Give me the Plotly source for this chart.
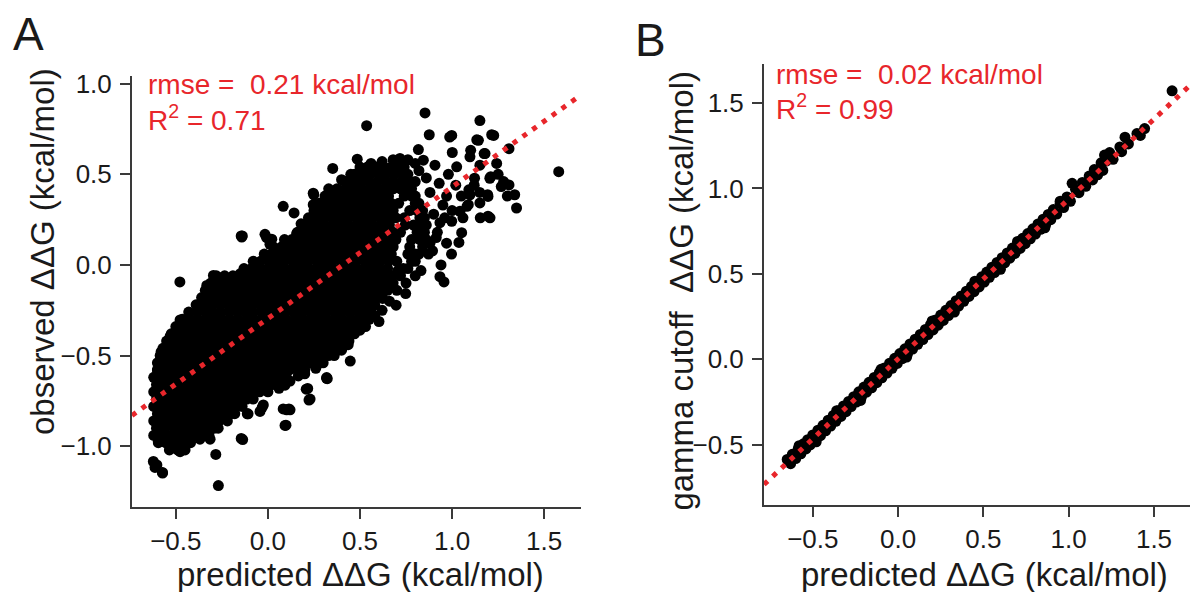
import plotly.graph_objects as go

# ---------------- Panel A: observed vs predicted ddG ----------------
# Dense core of the cloud, read row by row: (observed y, [predicted x ...])
A_core_rows = [
    (-1.02, [-0.535, -0.49, -0.45]),
    (-0.98, [-0.595, -0.555, -0.51, -0.465, -0.42]),
    (-0.94, [-0.62, -0.575, -0.53, -0.49, -0.445, -0.40, -0.36, -0.32]),
    (-0.90, [-0.605, -0.56, -0.51, -0.47, -0.425, -0.38, -0.335, -0.29, -0.27]),
    (-0.86, [-0.62, -0.58, -0.535, -0.49, -0.445, -0.40, -0.355, -0.31, -0.265, -0.22]),
    (-0.82, [-0.60, -0.555, -0.51, -0.47, -0.425, -0.38, -0.33, -0.29, -0.245, -0.20, -0.18]),
    (-0.78, [-0.62, -0.58, -0.535, -0.49, -0.445, -0.40, -0.36, -0.315, -0.27, -0.225, -0.18, -0.14]),
    (-0.74, [-0.605, -0.56, -0.515, -0.47, -0.425, -0.38, -0.34, -0.29, -0.25, -0.205, -0.16, -0.115, -0.08]),
    (-0.70, [-0.62, -0.58, -0.535, -0.49, -0.445, -0.40, -0.355, -0.31, -0.265, -0.22, -0.18, -0.135, -0.09, -0.045, 0.0]),
    (-0.66, [-0.605, -0.56, -0.515, -0.47, -0.425, -0.38, -0.335, -0.29, -0.245, -0.20, -0.155, -0.11, -0.065, -0.02, 0.025, 0.05]),
    (-0.62, [-0.62, -0.58, -0.535, -0.49, -0.445, -0.40, -0.355, -0.31, -0.265, -0.22, -0.175, -0.13, -0.09, -0.045, 0.0, 0.045, 0.085, 0.10]),
    (-0.58, [-0.60, -0.555, -0.51, -0.465, -0.42, -0.375, -0.33, -0.285, -0.245, -0.20, -0.155, -0.11, -0.065, -0.02, 0.025, 0.07, 0.115, 0.16, 0.20]),
    (-0.54, [-0.60, -0.575, -0.53, -0.485, -0.44, -0.395, -0.35, -0.305, -0.26, -0.22, -0.175, -0.13, -0.085, -0.04, 0.005, 0.05, 0.09, 0.135, 0.18, 0.225, 0.265]),
    (-0.50, [-0.585, -0.545, -0.50, -0.455, -0.41, -0.365, -0.32, -0.28, -0.235, -0.19, -0.145, -0.10, -0.06, -0.015, 0.03, 0.075, 0.115, 0.16, 0.205, 0.25, 0.29, 0.33]),
    (-0.46, [-0.57, -0.525, -0.48, -0.435, -0.39, -0.345, -0.30, -0.255, -0.215, -0.17, -0.125, -0.08, -0.035, 0.01, 0.05, 0.095, 0.14, 0.185, 0.23, 0.27, 0.315, 0.36, 0.40]),
    (-0.42, [-0.55, -0.505, -0.46, -0.415, -0.37, -0.325, -0.28, -0.235, -0.19, -0.15, -0.105, -0.06, -0.015, 0.03, 0.07, 0.115, 0.16, 0.205, 0.25, 0.29, 0.335, 0.38, 0.42, 0.44]),
    (-0.38, [-0.525, -0.48, -0.435, -0.39, -0.345, -0.30, -0.26, -0.215, -0.17, -0.125, -0.08, -0.04, 0.005, 0.05, 0.095, 0.14, 0.18, 0.225, 0.27, 0.315, 0.355, 0.40, 0.445, 0.47]),
    (-0.34, [-0.50, -0.455, -0.41, -0.365, -0.32, -0.28, -0.235, -0.19, -0.145, -0.10, -0.06, -0.015, 0.03, 0.075, 0.115, 0.16, 0.205, 0.25, 0.29, 0.335, 0.38, 0.425, 0.465, 0.50]),
    (-0.30, [-0.465, -0.425, -0.38, -0.335, -0.29, -0.25, -0.205, -0.16, -0.115, -0.075, -0.03, 0.015, 0.055, 0.10, 0.145, 0.19, 0.23, 0.275, 0.32, 0.36, 0.405, 0.45, 0.49, 0.53]),
    (-0.26, [-0.43, -0.385, -0.34, -0.30, -0.255, -0.21, -0.165, -0.12, -0.08, -0.035, 0.01, 0.055, 0.095, 0.14, 0.185, 0.23, 0.27, 0.315, 0.36, 0.40, 0.445, 0.49, 0.53, 0.56]),
    (-0.22, [-0.39, -0.35, -0.305, -0.26, -0.215, -0.175, -0.13, -0.085, -0.04, 0.0, 0.045, 0.09, 0.13, 0.175, 0.22, 0.26, 0.305, 0.35, 0.39, 0.435, 0.48, 0.52, 0.565, 0.58]),
    (-0.18, [-0.36, -0.32, -0.275, -0.23, -0.19, -0.145, -0.10, -0.06, -0.015, 0.03, 0.07, 0.115, 0.16, 0.20, 0.245, 0.29, 0.33, 0.375, 0.42, 0.46, 0.505, 0.55, 0.59, 0.62]),
    (-0.14, [-0.34, -0.295, -0.25, -0.21, -0.165, -0.12, -0.08, -0.035, 0.01, 0.05, 0.095, 0.14, 0.18, 0.225, 0.27, 0.31, 0.355, 0.40, 0.44, 0.485, 0.53, 0.57, 0.615, 0.65]),
    (-0.10, [-0.31, -0.27, -0.225, -0.18, -0.14, -0.095, -0.05, -0.01, 0.035, 0.08, 0.12, 0.165, 0.21, 0.25, 0.295, 0.34, 0.38, 0.425, 0.47, 0.51, 0.555, 0.60, 0.64, 0.68]),
    (-0.06, [-0.28, -0.235, -0.19, -0.15, -0.105, -0.06, -0.02, 0.025, 0.07, 0.11, 0.155, 0.20, 0.24, 0.285, 0.33, 0.37, 0.415, 0.46, 0.50, 0.545, 0.59, 0.63, 0.675, 0.72]),
    (-0.02, [-0.13, -0.09, -0.045, 0.0, 0.04, 0.085, 0.13, 0.17, 0.215, 0.26, 0.30, 0.345, 0.39, 0.43, 0.475, 0.52, 0.56, 0.605, 0.65, 0.735, 0.76]),
    (0.02, [-0.08, -0.04, 0.005, 0.05, 0.09, 0.135, 0.18, 0.22, 0.265, 0.31, 0.35, 0.395, 0.44, 0.48, 0.525, 0.57, 0.61, 0.655, 0.70, 0.78, 0.80]),
    (0.06, [-0.02, 0.02, 0.065, 0.11, 0.15, 0.195, 0.24, 0.28, 0.325, 0.37, 0.41, 0.455, 0.50, 0.54, 0.585, 0.63, 0.67, 0.76, 0.80, 0.82]),
    (0.10, [0.03, 0.075, 0.12, 0.16, 0.205, 0.25, 0.29, 0.335, 0.38, 0.42, 0.465, 0.51, 0.55, 0.595, 0.64, 0.68, 0.77, 0.84]),
    (0.14, [0.09, 0.13, 0.175, 0.22, 0.26, 0.305, 0.35, 0.39, 0.435, 0.48, 0.52, 0.565, 0.61, 0.65, 0.695, 0.78, 0.825, 0.86]),
    (0.18, [0.16, 0.20, 0.245, 0.29, 0.33, 0.375, 0.42, 0.46, 0.505, 0.55, 0.59, 0.635, 0.68, 0.72, 0.81, 0.85]),
    (0.22, [0.19, 0.225, 0.27, 0.31, 0.355, 0.40, 0.44, 0.485, 0.53, 0.57, 0.615, 0.66, 0.745, 0.79, 0.83, 0.86]),
    (0.26, [0.22, 0.26, 0.305, 0.35, 0.39, 0.435, 0.48, 0.52, 0.565, 0.61, 0.65, 0.695, 0.74, 0.825, 0.85]),
    (0.30, [0.25, 0.29, 0.335, 0.38, 0.42, 0.465, 0.51, 0.55, 0.595, 0.64, 0.68, 0.77, 0.81, 0.84]),
    (0.34, [0.28, 0.32, 0.365, 0.41, 0.45, 0.495, 0.54, 0.58, 0.625, 0.67, 0.71, 0.80, 0.82]),
    (0.38, [0.31, 0.35, 0.395, 0.44, 0.48, 0.525, 0.57, 0.61, 0.655, 0.74, 0.78, 0.80]),
    (0.42, [0.33, 0.375, 0.42, 0.46, 0.505, 0.55, 0.59, 0.635, 0.68, 0.72, 0.76, 0.78]),
    (0.46, [0.42, 0.465, 0.51, 0.55, 0.595, 0.64, 0.68, 0.725, 0.77, 0.80]),
    (0.50, [0.47, 0.51, 0.555, 0.60, 0.64, 0.685, 0.73, 0.76]),
    (0.54, [0.50, 0.54, 0.585, 0.63, 0.67, 0.715, 0.74]),
]

# Scattered points around the core (predicted, observed)
A_edge_pred = [
    0.853, 0.536, 1.151, 0.876, 0.998, 1.215, 1.134, 0.817, 1.001, 1.179, 1.097, 1.242, 0.485, 0.352,
    0.717, 0.844, 0.907, 1.025, 1.151, 1.210, 1.193, 1.097, 1.151, 1.206, 1.088, 1.043, 0.998, 1.052,
    0.934, 0.246, 0.246, 0.192, 0.310, 1.579, 1.309, 1.226, 0.083, -0.145, -0.478, 0.249, 0.987, 1.143,
    1.350, 1.340, 1.309, 1.267, 1.195, 1.081, 1.153, 1.195, 1.037, 0.997, 0.872, 0.956, 0.934, 0.831,
    1.101, 1.174, 1.205, 1.091, 1.122, 1.059, 0.914, 0.894, 0.706, 0.665, 0.748,
    0.142, 0.180, 0.319, -0.139, -0.016, 0.021, 0.156, 0.373,
    -0.296, -0.242, -0.332, -0.278, -0.477, -0.531, -0.142, -0.007, 0.011, -0.151, 0.319,
    -0.622, -0.613, -0.573, -0.269, -0.283, -0.137, 0.098, 0.102, 0.120, 0.223, 0.216, 0.319, 0.093,
    -0.112, -0.025, -0.043, -0.369, -0.477, -0.531, -0.595, -0.314, -0.215, -0.197, 0.165,
    0.447, 0.447, 0.322, 0.436, 0.384, 0.530, 0.603, 0.623, 0.696, 0.561, 0.208, 0.229, 0.093, 0.083,
    0.114, -0.145, -0.108, -0.031, -0.572, -0.603,
    0.88, 0.92, 0.90, 0.95, 0.88, 0.93, 0.98, 0.86, 1.02, 1.05, 0.97, 1.00, 0.96, 1.12, 1.15, 1.25,
    1.28, 1.30, 0.82, 0.80, 0.76, 0.68, 0.62, 0.56, 0.45, 0.40, 0.94, 0.97, 0.80, 0.75, 0.70, 0.62,
    0.66, 0.58, 0.55, 0.50, 0.36, 0.40, 0.30, 0.26, 0.20, 0.12, 0.06, -0.60, -0.58,
]
A_edge_obs = [
    0.838, 0.768, 0.796, 0.718, 0.714, 0.718, 0.690, 0.636, 0.620, 0.614, 0.596, 0.560, 0.583, 0.532,
    0.587, 0.578, 0.550, 0.541, 0.550, 0.487, 0.387, 0.387, 0.342, 0.260, 0.332, 0.296, 0.241, 0.178,
    0.233, 0.396, 0.332, 0.223, 0.332, 0.514, 0.641, 0.714, 0.323, 0.160, -0.094, 0.387, 0.705, 0.687,
    0.314, 0.387, 0.441, 0.432, 0.378, 0.323, 0.260, 0.269, 0.124, 0.060, 0.060, -0.094, -0.065, -0.031,
    0.632, 0.614, 0.478, 0.414, 0.478, 0.260, 0.151, 0.078, -0.031, -0.122, -0.158,
    0.287, 0.227, 0.323, 0.160, 0.169, 0.142, 0.173, 0.387,
    -0.058, -0.067, -0.113, -0.149, -0.303, -0.394, 0.154, 0.151, 0.114, -0.049, -0.621,
    -1.084, -1.117, -1.144, -1.217, -1.045, -0.963, -0.884, -0.799, -0.799, -0.745, -0.681, -0.625, -0.663,
    -0.821, -0.772, -0.808, -0.961, -1.030, -1.008, -0.972, -0.961, -0.812, -0.794, -0.612,
    -0.340, -0.530, -0.627, -0.440, -0.413, -0.340, -0.312, -0.185, -0.222, -0.185, -0.685, -0.740, -0.885, -0.794,
    -0.794, -0.957, -0.821, -0.785, -1.148, -1.103,
    0.12, 0.18, 0.28, 0.33, 0.40, 0.45, 0.50, 0.48, 0.44, 0.38, 0.38, 0.30, 0.26, 0.44, 0.40, 0.50,
    0.46, 0.38, 0.52, 0.56, 0.58, 0.58, 0.57, 0.56, 0.50, 0.47, 0.00, 0.12, -0.06, -0.10, -0.14, -0.25,
    -0.20, -0.28, -0.30, -0.36, -0.50, -0.47, -0.54, -0.57, -0.60, -0.64, -0.68, -0.58, -0.48,
]

# regression line (slope, intercept) and stats
A_fit = (0.725, -0.295)
A_stats = ("0.21", "0.71")

# ---------------- Panel B: gamma cutoff vs predicted ddG ----------------
B_pred = [
    -0.650, -0.630, -0.620, -0.600, -0.585, -0.570, -0.555, -0.540, -0.530, -0.515, -0.500, -0.485,
    -0.470, -0.455, -0.440, -0.425, -0.410, -0.395, -0.380, -0.365, -0.350, -0.335, -0.320, -0.305,
    -0.290, -0.275, -0.260, -0.245, -0.230, -0.215, -0.200, -0.185, -0.170, -0.155, -0.140, -0.125,
    -0.110, -0.095, -0.080, -0.065, -0.050, -0.035, -0.020, -0.005, 0.010, 0.025, 0.040, 0.055,
    0.070, 0.085, 0.100, 0.115, 0.130, 0.145, 0.160, 0.175, 0.190, 0.205, 0.220, 0.235,
    0.250, 0.265, 0.280, 0.295, 0.310, 0.325, 0.340, 0.355, 0.370, 0.385, 0.400, 0.415,
    0.430, 0.445, 0.460, 0.475, 0.490, 0.505, 0.520, 0.535, 0.550, 0.565, 0.580, 0.595,
    0.610, 0.625, 0.640, 0.655, 0.670, 0.685, 0.700, 0.715, 0.730, 0.745, 0.760, 0.775,
    0.790, 0.805, 0.820, 0.835, 0.850, 0.865, 0.880, 0.895, 0.910, 0.930, 0.950, 0.970,
    0.990, 1.010, 1.020, 1.040, 1.060, 1.080, 1.100, 1.120, 1.140, 1.150, 1.170, 1.190,
    1.200, 1.210, 1.220, 1.240, 1.260, 1.300, 1.310, 1.330, 1.350, 1.400, 1.420, 1.445, 1.606,
    -0.58, -0.48, -0.36, -0.22, -0.10, 0.05, 0.20, 0.33, 0.45, 0.60, 0.70, 0.86, 0.95,
]
B_gamma = [
    -0.585, -0.610, -0.555, -0.580, -0.522, -0.552, -0.494, -0.524, -0.470, -0.500, -0.442, -0.472,
    -0.414, -0.446, -0.386, -0.418, -0.356, -0.390, -0.328, -0.362, -0.300, -0.334, -0.272, -0.306,
    -0.246, -0.276, -0.218, -0.250, -0.190, -0.220, -0.162, -0.192, -0.134, -0.166, -0.106, -0.136,
    -0.078, -0.108, -0.050, -0.080, -0.022, -0.052, 0.006, -0.024, 0.034, 0.004, 0.062, 0.032,
    0.090, 0.060, 0.118, 0.088, 0.146, 0.116, 0.175, 0.145, 0.203, 0.172, 0.231, 0.200,
    0.259, 0.228, 0.287, 0.256, 0.315, 0.284, 0.343, 0.312, 0.371, 0.340, 0.399, 0.368,
    0.427, 0.396, 0.455, 0.424, 0.483, 0.452, 0.511, 0.480, 0.539, 0.508, 0.567, 0.536,
    0.595, 0.564, 0.623, 0.592, 0.651, 0.620, 0.680, 0.649, 0.708, 0.677, 0.736, 0.705,
    0.764, 0.733, 0.792, 0.761, 0.820, 0.789, 0.848, 0.817, 0.876, 0.850, 0.913, 0.888,
    0.950, 0.925, 1.030, 0.995, 0.975, 1.035, 1.012, 1.072, 1.050, 1.110, 1.080, 1.150,
    1.105, 1.195, 1.160, 1.210, 1.170, 1.243, 1.215, 1.300, 1.260, 1.321, 1.310, 1.350, 1.571,
    -0.505, -0.482, -0.300, -0.240, -0.058, 0.014, 0.225, 0.277, 0.457, 0.527, 0.690, 0.770, 0.925,
]
B_fit = (0.935, 0.003)
B_stats = ("0.02", "0.99")

tick_vals = [-1.0, -0.5, 0.0, 0.5, 1.0, 1.5]

# axis ranges
A_xrange = [-0.738, 1.700]
A_yrange = [-1.335, 1.041]
B_xrange = [-0.786, 1.711]
B_yrange = [-0.852, 1.726]

W, H = 1191, 592
RED = "#e8262b"
INK = "#1a1a1a"
AXC = "#3a3a3a"
FONT = "Liberation Sans, Arial, Helvetica, sans-serif"

A_pred, A_obs = [], []
for yv, xs in A_core_rows:
    for xv in xs:
        A_pred.append(xv)
        A_obs.append(yv)
A_pred += A_edge_pred
A_obs += A_edge_obs

fig = go.Figure()
mk = dict(color="black", size=11, line=dict(width=0))
fig.add_trace(go.Scatter(x=A_pred, y=A_obs, mode="markers", marker=mk, xaxis="x", yaxis="y", hoverinfo="skip"))
fig.add_trace(go.Scatter(x=B_pred, y=B_gamma, mode="markers", marker=mk, xaxis="x2", yaxis="y2", hoverinfo="skip"))

for (slope, icpt), xr, ax, ay in [(A_fit, A_xrange, "x", "y"), (B_fit, B_xrange, "x2", "y2")]:
    fig.add_trace(go.Scatter(
        x=xr, y=[icpt + slope * v for v in xr], mode="lines",
        line=dict(color=RED, width=5, dash="5px,7px"), xaxis=ax, yaxis=ay, hoverinfo="skip"))


def px_x(p):
    return p / W


def px_y(p):
    return (H - p) / H


axis_common = dict(
    showline=True, linecolor=AXC, linewidth=2, ticks="outside", ticklen=10, tickwidth=2,
    tickcolor=AXC, showgrid=False, zeroline=False, tickfont=dict(size=26, color=INK, family=FONT),
    tickformat=".1f", tickvals=tick_vals, fixedrange=True,
)

fig.update_layout(
    width=W, height=H, margin=dict(l=0, r=0, t=0, b=0),
    plot_bgcolor="white", paper_bgcolor="white", showlegend=False,
    font=dict(family=FONT, color=INK),
    xaxis=dict(axis_common, domain=[px_x(132), px_x(581)], range=A_xrange, anchor="y"),
    yaxis=dict(axis_common, domain=[px_y(506), px_y(70)], range=A_yrange, anchor="x", ticklabelstandoff=3),
    xaxis2=dict(axis_common, domain=[px_x(764), px_x(1190)], range=B_xrange, anchor="y2"),
    yaxis2=dict(axis_common, domain=[px_y(504), px_y(58)], range=B_yrange, anchor="x2", ticklabelstandoff=3),
)

ann = []


def add_text(text, x, y, size, color=INK, xanchor="center", yanchor="middle", angle=0):
    ann.append(dict(text=text, x=px_x(x), y=px_y(y), xref="paper", yref="paper", showarrow=False,
                    xanchor=xanchor, yanchor=yanchor, textangle=angle,
                    font=dict(size=size, color=color, family=FONT)))


# panel letters
add_text("A", 11, 27, 46, xanchor="left")
add_text("B", 633, 33, 46, xanchor="left")
# axis titles
add_text("predicted \u0394\u0394G (kcal/mol)", 360, 574, 33)
add_text("observed \u0394\u0394G (kcal/mol)", 42, 248, 33, angle=-90)
add_text("predicted \u0394\u0394G (kcal/mol)", 984, 574, 33)
add_text("gamma cutoff\u00a0 \u0394\u0394G (kcal/mol)", 682, 287, 33, angle=-90)
# stats
add_text("rmse =\u00a0 %s kcal/mol" % A_stats[0], 146, 78, 28, color=RED, xanchor="left")
add_text("R<sup>2</sup> = %s" % A_stats[1], 146, 112, 28, color=RED, xanchor="left")
add_text("rmse =\u00a0 %s kcal/mol" % B_stats[0], 774, 68, 28, color=RED, xanchor="left")
add_text("R<sup>2</sup> = %s" % B_stats[1], 774, 101, 28, color=RED, xanchor="left")

fig.update_layout(annotations=ann)
fig.write_html("out.html", config={"displayModeBar": False})
